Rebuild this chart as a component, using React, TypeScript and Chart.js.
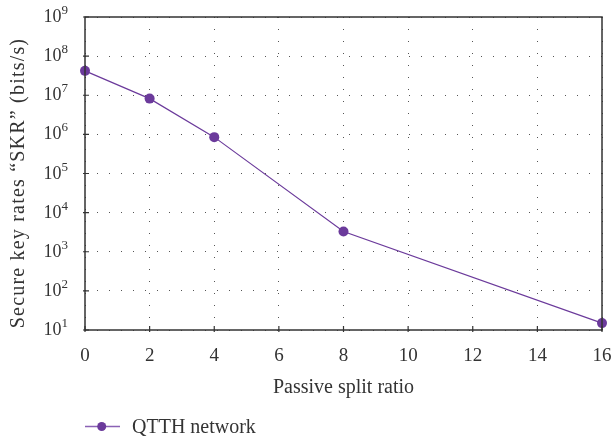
import React, { useEffect, useRef } from "react";
import { Chart, registerables } from "chart.js";

Chart.register(...registerables);

const splitRatios = [0, 2, 4, 8, 16];
const skrValues = [4.2e7, 8.2e6, 8.5e5, 3.3e3, 15];
const xTicks = [0, 2, 4, 6, 8, 10, 12, 14, 16];
const yExponents = [1, 2, 3, 4, 5, 6, 7, 8, 9];
const seriesLabel = "QTTH network";
const xTitle = "Passive split ratio";
const yTitle = "Secure key rates \u201cSKR\u201d (bits/s)";

const FONT = "'Liberation Serif', 'DejaVu Serif', serif";
const PURPLE = "#6b3a9b";
const TEXT = "#333333";

export default function App() {
  const ref = useRef<HTMLCanvasElement | null>(null);
  useEffect(() => {
    document.body.style.margin = "0";
    const canvas = ref.current!;
    const overlay = {
      id: "overlay",
      afterDraw(chart: any) {
        const ctx = chart.ctx;
        const a = chart.chartArea;
        const ys = chart.scales.y;
        const xs = chart.scales.x;
        ctx.save();
        // frame
        ctx.strokeStyle = "#333";
        ctx.lineWidth = 1.5;
        ctx.strokeRect(a.left, a.top, a.right - a.left, a.bottom - a.top);
        // tick marks
        ctx.lineWidth = 1.2;
        ctx.beginPath();
        for (const t of xs.ticks) {
          const px = xs.getPixelForValue(t.value);
          ctx.moveTo(px, a.bottom + 2);
          ctx.lineTo(px, a.bottom - 4);
        }
        for (const e of yExponents) {
          const py = ys.getPixelForValue(Math.pow(10, e));
          ctx.moveTo(a.left - 2, py);
          ctx.lineTo(a.left + 4, py);
        }
        ctx.stroke();
        ctx.fillStyle = TEXT;
        ctx.textBaseline = "alphabetic";
        // x tick labels
        ctx.font = `19px ${FONT}`;
        ctx.textAlign = "center";
        for (const v of xTicks) {
          ctx.fillText(String(v), xs.getPixelForValue(v), 361);
        }
        // y tick labels with superscripts
        for (const e of yExponents) {
          const py = ys.getPixelForValue(Math.pow(10, e));
          const exp = String(e);
          ctx.font = `13px ${FONT}`;
          const ew = ctx.measureText(exp).width;
          ctx.textAlign = "left";
          const right = a.left - 17;
          ctx.fillText(exp, right - ew, py - 3);
          ctx.font = `18px ${FONT}`;
          ctx.textAlign = "right";
          ctx.fillText("10", right - ew, py + 5);
        }
        // axis titles
        ctx.font = `20px ${FONT}`;
        ctx.textAlign = "center";
        ctx.fillText(xTitle, (a.left + a.right) / 2, 393);
        ctx.save();
        ctx.translate(24, 183);
        ctx.rotate(-Math.PI / 2);
        (ctx as any).letterSpacing = "1.2px";
        ctx.fillText(yTitle, 0, 0);
        ctx.restore();
        // legend
        const ds = chart.data.datasets[0];
        ctx.strokeStyle = "#8a62b5";
        ctx.lineWidth = 1.5;
        ctx.beginPath();
        ctx.moveTo(85, 426.5);
        ctx.lineTo(120, 426.5);
        ctx.stroke();
        ctx.fillStyle = PURPLE;
        ctx.beginPath();
        ctx.arc(101.7, 426.5, 4.5, 0, Math.PI * 2);
        ctx.fill();
        ctx.fillStyle = TEXT;
        ctx.textAlign = "left";
        ctx.fillText(ds.label, 132, 433);
        ctx.restore();
      },
    };
    const chart = new Chart(canvas, {
      type: "line",
      data: {
        datasets: [
          {
            label: seriesLabel,
            data: splitRatios.map((x, i) => ({ x, y: skrValues[i] })),
            borderColor: PURPLE,
            backgroundColor: PURPLE,
            borderWidth: 1.2,
            pointRadius: 5,
            pointHoverRadius: 5,
            pointBackgroundColor: PURPLE,
            pointBorderWidth: 0,
            tension: 0,
            clip: false as any,
          },
        ],
      },
      options: {
        animation: false,
        responsive: false,
        maintainAspectRatio: false,
        layout: { padding: { left: 0, right: 12, top: 17, bottom: 0 } },
        plugins: { legend: { display: false }, tooltip: { enabled: false } },
        scales: {
          x: {
            type: "linear",
            min: 0,
            max: 16,
            afterBuildTicks: (s: any) => {
              s.ticks = xTicks.map((v) => ({ value: v }));
            },
            afterFit: (s: any) => {
              s.height = 111;
            },
            ticks: { display: false },
            border: { display: false, dash: [1, 11] },
            grid: {
              color: "#555",
              lineWidth: 1,
              drawTicks: false,
            },
          },
          y: {
            type: "logarithmic",
            min: 10,
            max: 1e9,
            afterBuildTicks: (s: any) => {
              s.ticks = yExponents.map((e) => ({ value: Math.pow(10, e) }));
            },
            afterFit: (s: any) => {
              s.width = 85;
            },
            ticks: { display: false },
            border: { display: false, dash: [1, 11] },
            grid: { color: "#555", lineWidth: 1, drawTicks: false },
          },
        },
      } as any,
      plugins: [overlay],
    });
    return () => chart.destroy();
  }, []);
  return (
    <div style={{ width: 614, height: 441 }}>
      <canvas ref={ref} width={614} height={441} style={{ display: "block" }} />
    </div>
  );
}
